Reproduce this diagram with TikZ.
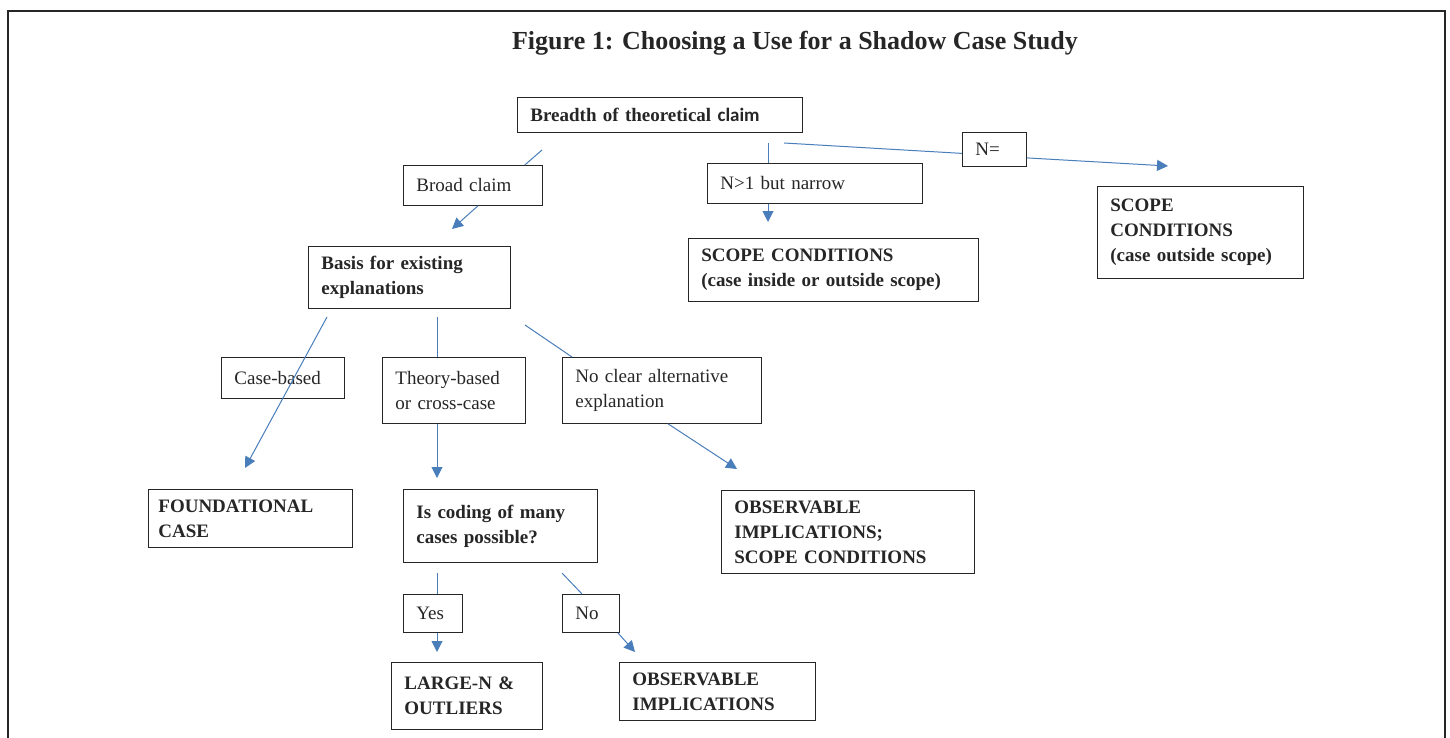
\documentclass[tikz,border=0pt]{standalone}
\usepackage{fontspec}
\setmainfont{Liberation Serif}
\newfontfamily\calibri{Carlito}
\usetikzlibrary{arrows.meta}
\definecolor{flecha}{HTML}{4A7EBB}
\definecolor{tinta}{HTML}{262626}

\begin{document}
\begin{tikzpicture}[x=1pt,y=-1pt,
    caja/.style={draw=tinta,line width=0.8pt,anchor=north west,align=left,
      inner xsep=13pt,inner ysep=2pt,text=tinta,font=\fontsize{19}{25}\selectfont},
    fuerte/.style={caja,font=\fontsize{19}{25}\selectfont\bfseries},
    enlace/.style={flecha,line width=1pt},
    punta/.style={enlace,-{Triangle[length=11pt,width=11pt]}}]
  \useasboundingbox (0,0) rectangle (1450,738);

  % Marco
  \draw[tinta,line width=2.5pt] (8,738) -- (8,11) -- (1445,11) -- (1445,738);

  % Titulo
  \node[anchor=base,text=tinta,font=\fontsize{26}{30}\selectfont\bfseries] (titulo) at (795,50)
    {Figure 1: Choosing a Use for a Shadow Case Study};

  % Cajas
  \node[fuerte,text width=259pt,minimum height=35pt] (amplitud) at (517,97) {Breadth of theoretical {\calibri claim}};
  \node[caja,text width=38pt,minimum height=34pt] (nigual) at (962,132) {N=};
  \node[fuerte,text width=180pt,minimum height=92pt] (scfuera) at (1097,186) {SCOPE\\CONDITIONS\\(case outside scope)};
  \node[caja,text width=189pt,minimum height=40pt] (estrecha) at (707,163) {N>1 but narrow};
  \node[fuerte,text width=264pt,minimum height=63pt] (scdentro) at (688,238) {SCOPE CONDITIONS\\(case inside or outside scope)};
  \node[caja,text width=113pt,minimum height=40pt] (amplia) at (403,165) {Broad claim};
  \node[fuerte,text width=176pt,minimum height=62pt] (bases) at (308,246) {Basis for existing\\explanations};
  \node[caja,text width=97pt,minimum height=41pt] (casos) at (221,357) {Case-based};
  \node[caja,text width=117pt,minimum height=66pt] (teoria) at (382,357) {Theory-based\\or cross-case};
  \node[caja,text width=173pt,minimum height=66pt] (sinalt) at (562,357) {No clear alternative\\explanation};
  \node[fuerte,inner xsep=10pt,text width=184pt,minimum height=58pt] (fundac) at (148,489) {FOUNDATIONAL\\CASE};
  \node[fuerte,text width=168pt,minimum height=73pt] (codif) at (403,489) {Is coding of many\\cases possible?};
  \node[fuerte,text width=227pt,minimum height=83pt] (obsalc) at (721,490) {OBSERVABLE\\IMPLICATIONS;\\SCOPE CONDITIONS};
  \node[caja,text width=33pt,minimum height=38pt] (si) at (403,594) {Yes};
  \node[caja,text width=31pt,minimum height=38pt] (no) at (562,594) {No};
  \node[fuerte,text width=125pt,minimum height=67pt] (grande) at (391,662) {LARGE-N \&\\OUTLIERS};
  \node[fuerte,text width=170pt,minimum height=58pt] (obsimp) at (619,662) {OBSERVABLE\\IMPLICATIONS};

  % Conectores
  \coordinate (a1) at (542,150);
  \coordinate (a2) at (452,229);
  \draw[enlace] (a1) -- ([xshift=-18pt]amplia.north east);
  \draw[punta] ([xshift=75pt]amplia.south west) -- (a2);

  \coordinate (b1) at (768,143);
  \coordinate (b2) at (768,222);
  \draw[enlace] (b1) -- (b1 |- estrecha.north);
  \draw[punta] (b1 |- estrecha.south) -- (b2);

  \coordinate (c1) at (784,143);
  \coordinate (c2) at (1168,166);
  \draw[enlace] (c1) -- ([yshift=-4pt]nigual.west);
  \draw[punta] ([yshift=-8.5pt]nigual.east) -- (c2);

  \coordinate (d1) at (327,317);
  \coordinate (d2) at (245,468);
  \draw[punta] (d1) -- (d2);

  \coordinate (e1) at (437,317);
  \coordinate (e2) at (437,478);
  \draw[enlace] (e1) -- (e1 |- teoria.north);
  \draw[punta] (e1 |- teoria.south) -- (e2);

  \coordinate (f1) at (525,325);
  \coordinate (f2) at (737,469);
  \draw[enlace] (f1) -- ([xshift=10pt]sinalt.north west);
  \draw[punta] ([xshift=106pt]sinalt.south west) -- (f2);

  \coordinate (g1) at (437,573);
  \coordinate (g2) at (437,652);
  \draw[enlace] (g1) -- (g1 |- si.north);
  \draw[punta] (g1 |- si.south) -- (g2);

  \coordinate (h1) at (562,573);
  \coordinate (h2) at (635,652);
  \draw[enlace] (h1) -- ([xshift=20pt]no.north west);
  \draw[punta] ([xshift=-2pt]no.south east) -- (h2);
\end{tikzpicture}
\end{document}
